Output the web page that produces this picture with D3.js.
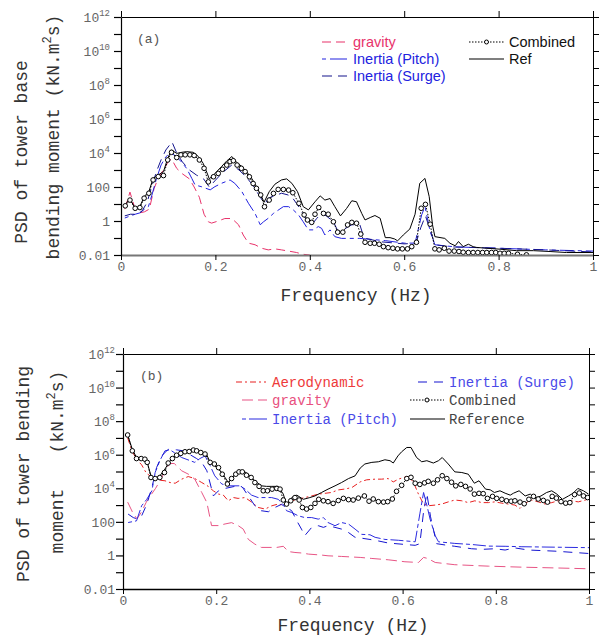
<!DOCTYPE html>
<html>
<head>
<meta charset="utf-8">
<script src="https://cdn.jsdelivr.net/npm/d3@7"></script>
<style>
  body { margin: 0; background: #fff; }
  svg { display: block; }
</style>
</head>
<body>
<svg id="chart" width="601" height="639"></svg>
<script>
// --- Data: panel (a), [frequency Hz, PSD] ---
const gravityA = [[0.008,5],[0.019,50],[0.03,5],[0.04,3],[0.05,3.5],[0.06,5],[0.07,80],[0.08,400],[0.09,1000],[0.1,3000],[0.107,4500],[0.118,1250],[0.13,600],[0.145,300],[0.155,100],[0.166,25],[0.176,2.5],[0.185,0.9],[0.192,0.75],[0.206,1],[0.22,1.4],[0.235,1.4],[0.249,0.6],[0.259,0.15],[0.27,0.05],[0.284,0.04],[0.298,0.025],[0.312,0.02],[0.326,0.023],[0.34,0.02],[0.355,0.017],[0.372,0.014],[0.386,0.011],[0.4,0.01]];
const pitchA = [[0.008,1.5],[0.02,2],[0.03,2.5],[0.04,3],[0.05,5],[0.058,7],[0.065,30],[0.075,300],[0.085,2000],[0.095,6000],[0.105,1e4],[0.115,7000],[0.128,3000],[0.139,1250],[0.15,320],[0.157,130],[0.17,105],[0.189,68],[0.199,105],[0.213,165],[0.231,260],[0.241,165],[0.256,54],[0.27,11],[0.284,2.8],[0.295,0.6],[0.302,0.9],[0.312,1.45],[0.323,2.8],[0.344,7],[0.355,7],[0.365,4.5],[0.376,2.3],[0.386,0.9],[0.397,0.3],[0.407,0.3],[0.418,0.47],[0.425,0.37],[0.432,0.15],[0.443,0.3],[0.453,0.12],[0.467,0.095],[0.506,0.095],[0.56,0.07],[0.6,0.05],[0.623,0.05],[0.637,2.3],[0.644,7],[0.655,0.24],[0.665,0.04],[0.708,0.03],[0.8,0.025],[0.9,0.02],[1,0.017]];
const surgeA = [[0.008,2],[0.02,2.5],[0.035,2.5],[0.045,4],[0.055,12],[0.065,100],[0.075,800],[0.085,4000],[0.095,1.5e4],[0.108,4.5e4],[0.118,1e4],[0.13,3000],[0.145,1000],[0.16,500],[0.175,300],[0.187,100],[0.2,250],[0.215,700],[0.235,2000],[0.25,1000],[0.265,400],[0.28,120],[0.295,25],[0.305,10],[0.312,22],[0.34,43],[0.354,34],[0.365,20],[0.379,5.6],[0.39,1.5],[0.404,0.6],[0.415,1.45],[0.425,2.8],[0.435,2],[0.45,0.9],[0.46,0.24],[0.47,0.3],[0.489,0.6],[0.506,0.6],[0.515,0.1],[0.55,0.06],[0.6,0.045],[0.625,0.05],[0.635,0.4],[0.645,2],[0.655,0.3],[0.665,0.04],[0.7,0.03],[0.8,0.025],[0.9,0.02],[1,0.015]];
const combinedA = [[0.009,7.8],[0.019,17],[0.03,5.6],[0.04,6.2],[0.049,22],[0.059,43],[0.068,260],[0.079,410],[0.09,470],[0.099,3900],[0.107,1.1e4],[0.118,5400],[0.127,7800],[0.136,7800],[0.146,7800],[0.155,7100],[0.166,3900],[0.176,1260],[0.185,200],[0.196,400],[0.206,630],[0.215,1100],[0.224,1950],[0.231,3100],[0.238,3500],[0.246,1950],[0.255,1260],[0.263,800],[0.272,400],[0.28,160],[0.287,83],[0.296,34],[0.304,6.9],[0.314,17],[0.323,42],[0.333,72],[0.344,72],[0.355,66],[0.364,46],[0.377,11],[0.388,2.3],[0.395,1.15],[0.404,0.83],[0.411,2.5],[0.419,6.2],[0.429,2.8],[0.439,2.5],[0.45,0.9],[0.459,0.22],[0.47,0.22],[0.48,0.59],[0.489,0.83],[0.499,0.74],[0.508,0.17],[0.517,0.056],[0.528,0.049],[0.537,0.049],[0.547,0.043],[0.556,0.031],[0.566,0.027],[0.576,0.025],[0.586,0.023],[0.596,0.023],[0.607,0.023],[0.616,0.031],[0.626,0.056],[0.636,5.6],[0.645,9.5],[0.655,0.65],[0.665,0.023],[0.674,0.02],[0.685,0.025],[0.695,0.017],[0.706,0.017],[0.716,0.016],[0.725,0.0145],[0.736,0.014],[0.746,0.014],[0.756,0.014],[0.766,0.014],[0.775,0.014],[0.785,0.014],[0.794,0.014],[0.803,0.0126],[0.812,0.0126],[0.821,0.0126],[0.84,0.011],[0.859,0.0102]];
const refA = [[0.009,9.5],[0.019,20],[0.03,5.6],[0.04,7],[0.049,27],[0.059,53],[0.068,320],[0.079,510],[0.09,800],[0.099,4900],[0.107,1.5e4],[0.118,9500],[0.129,1.1e4],[0.139,1.2e4],[0.153,1.1e4],[0.164,6200],[0.174,2500],[0.184,510],[0.187,300],[0.196,510],[0.213,1600],[0.224,3400],[0.235,6200],[0.245,2800],[0.256,1600],[0.266,800],[0.277,320],[0.287,105],[0.298,27],[0.303,12.6],[0.314,53],[0.326,145],[0.34,260],[0.351,300],[0.362,165],[0.374,53],[0.386,7],[0.397,4.5],[0.411,13.5],[0.422,30],[0.432,17],[0.443,21],[0.453,7],[0.465,2],[0.478,5.5],[0.489,15.5],[0.499,13.5],[0.51,2.8],[0.517,1.15],[0.528,1.6],[0.538,2.1],[0.549,1.45],[0.56,0.105],[0.57,0.105],[0.58,0.087],[0.586,0.068],[0.598,0.15],[0.612,0.34],[0.623,2.5],[0.633,166],[0.644,320],[0.653,27],[0.66,0.59],[0.665,0.12],[0.686,0.095],[0.697,0.049],[0.708,0.035],[0.715,0.062],[0.725,0.031],[0.736,0.043],[0.746,0.031],[0.753,0.028],[0.775,0.025],[0.803,0.022],[0.838,0.018],[0.874,0.018],[0.909,0.016],[0.944,0.014],[1,0.014]];

// --- Data: panel (b) ---
const aeroB = [[0.01,1e7],[0.02,1.5e6],[0.03,5e5],[0.04,2.5e5],[0.05,8e4],[0.06,5e4],[0.07,4e4],[0.08,3e4],[0.09,2.8e4],[0.101,2.2e4],[0.112,2e4],[0.126,3.5e4],[0.14,5e4],[0.154,3.8e4],[0.169,2.2e4],[0.183,1.3e4],[0.194,7000],[0.205,4500],[0.215,4000],[0.226,1800],[0.237,2800],[0.247,2500],[0.262,2800],[0.276,1500],[0.29,720],[0.305,580],[0.319,900],[0.333,1150],[0.344,1000],[0.362,1800],[0.376,2200],[0.39,2800],[0.405,3500],[0.419,4500],[0.433,5000],[0.447,5600],[0.462,8000],[0.476,9000],[0.491,1.1e4],[0.509,2.4e4],[0.523,3.2e4],[0.541,3.5e4],[0.555,3.5e4],[0.569,3.8e4],[0.58,2.4e4],[0.591,3.5e4],[0.602,4.4e4],[0.612,5e4],[0.623,2.4e4],[0.634,4500],[0.645,1150],[0.655,910],[0.67,1000],[0.684,1150],[0.698,1550],[0.712,2000],[0.727,1800],[0.741,1400],[0.755,1800],[0.77,1400],[0.784,1400],[0.798,1550],[0.813,1300],[0.827,1150],[0.841,1000],[0.852,630],[0.863,1300],[0.877,2000],[0.891,1550],[0.906,1150],[0.92,1400],[0.934,1800],[0.949,1300],[0.963,1800],[0.977,1550],[0.992,2000],[1,2000]];
const gravityB = [[0.01,1500],[0.02,400],[0.03,150],[0.04,400],[0.05,1500],[0.06,4000],[0.07,1e4],[0.08,3e4],[0.09,1e5],[0.1,3e5],[0.11,3e5],[0.126,1.1e5],[0.14,7e4],[0.154,3.5e4],[0.169,5600],[0.18,1400],[0.19,60],[0.205,60],[0.219,75],[0.233,90],[0.247,60],[0.258,37],[0.269,9],[0.283,4.7],[0.297,3],[0.33,3],[0.344,3.5],[0.355,1.7],[0.369,1.5],[0.383,1.4],[0.398,1.2],[0.426,1.05],[0.44,0.95],[0.469,0.87],[0.509,0.76],[0.534,0.66],[0.569,0.55],[0.605,0.42],[0.634,0.38],[0.645,0.76],[0.654,0.66],[0.67,0.38],[0.712,0.28],[0.784,0.23],[0.856,0.2],[0.927,0.18],[1,0.16]];
const pitchB = [[0.011,91],[0.029,115],[0.04,910],[0.051,2200],[0.062,7100],[0.069,8.7e4],[0.079,4.4e5],[0.09,1.7e6],[0.101,1.95e6],[0.126,6.8e5],[0.154,3.5e5],[0.165,5.9e5],[0.176,8.5e5],[0.187,2.2e5],[0.197,5.5e4],[0.212,1.8e4],[0.226,1.4e4],[0.251,1.4e4],[0.262,8900],[0.276,3900],[0.29,2800],[0.305,2800],[0.319,2800],[0.333,2200],[0.344,1100],[0.351,460],[0.362,360],[0.376,230],[0.39,180],[0.405,180],[0.419,145],[0.43,180],[0.44,91],[0.455,59],[0.469,91],[0.484,74],[0.498,37],[0.512,18],[0.53,17],[0.541,12],[0.562,9],[0.591,8],[0.627,6.5],[0.637,300],[0.645,5600],[0.652,1000],[0.659,145],[0.67,15],[0.677,6.5],[0.712,5.2],[0.748,4.5],[0.784,3.6],[0.82,3.5],[0.856,3.3],[0.927,3.1],[1,2.9]];
const surgeB = [[0.011,290],[0.022,180],[0.03,150],[0.04,230],[0.051,1100],[0.062,1.1e4],[0.072,1.7e5],[0.083,8.5e5],[0.097,2.1e6],[0.115,1.95e6],[0.13,1.7e6],[0.158,5.9e5],[0.169,3.5e5],[0.18,1.1e5],[0.194,3500],[0.205,7100],[0.219,9800],[0.24,1.3e4],[0.251,1.55e4],[0.258,9800],[0.269,3500],[0.283,910],[0.297,460],[0.312,400],[0.326,720],[0.34,1100],[0.347,830],[0.362,460],[0.373,115],[0.383,37],[0.39,15],[0.405,47],[0.419,59],[0.43,47],[0.44,59],[0.455,47],[0.469,37],[0.484,23],[0.498,12],[0.509,11],[0.541,8],[0.569,5.5],[0.605,4.5],[0.627,4],[0.637,5],[0.645,400],[0.652,5000],[0.66,200],[0.673,5],[0.691,4.2],[0.712,3.5],[0.748,2.5],[0.77,2.3],[0.798,2.5],[0.82,2.1],[0.841,2.8],[0.87,2.1],[0.927,1.8],[1,1.3]];
const combinedB = [[0.01,1.5e7],[0.02,1.7e6],[0.029,5.9e5],[0.039,5.9e5],[0.047,5.4e5],[0.052,3.5e5],[0.06,4.4e4],[0.069,3.8e4],[0.079,4.4e4],[0.089,8.7e4],[0.097,3.2e5],[0.106,5.9e5],[0.115,9.3e5],[0.124,1.2e6],[0.133,1.5e6],[0.142,1.55e6],[0.151,1.9e6],[0.158,1.7e6],[0.167,1.35e6],[0.176,1.1e6],[0.187,3.5e5],[0.196,2.8e5],[0.205,1.7e5],[0.213,6.9e4],[0.224,1.8e4],[0.233,3.8e4],[0.242,6.9e4],[0.249,9.5e4],[0.256,9.5e4],[0.265,6e4],[0.275,4.4e4],[0.283,2.2e4],[0.292,1.3e4],[0.301,7100],[0.31,7100],[0.32,8900],[0.33,9800],[0.337,8900],[0.344,2000],[0.351,1150],[0.36,1800],[0.369,2800],[0.378,2000],[0.385,720],[0.394,580],[0.403,720],[0.412,1260],[0.42,2200],[0.43,1800],[0.44,1600],[0.451,1260],[0.462,1860],[0.473,2500],[0.484,2100],[0.494,2000],[0.505,2600],[0.518,3500],[0.528,1700],[0.537,2300],[0.548,1600],[0.559,1500],[0.568,1600],[0.578,2300],[0.587,6600],[0.598,1.5e4],[0.609,3.8e4],[0.618,4.5e4],[0.627,2e4],[0.637,1.7e4],[0.647,2.1e4],[0.655,2.6e4],[0.666,2e4],[0.675,3.2e4],[0.685,5.6e4],[0.695,3.8e4],[0.705,2.3e4],[0.714,1.4e4],[0.725,1.7e4],[0.735,1.3e4],[0.745,9100],[0.754,4500],[0.764,5000],[0.773,4800],[0.782,2500],[0.793,3300],[0.802,2500],[0.813,2200],[0.823,1800],[0.833,1700],[0.841,1800],[0.852,1500],[0.861,1200],[0.871,2200],[0.881,3300],[0.891,2300],[0.902,1900],[0.911,1500],[0.921,3300],[0.93,2600],[0.94,1600],[0.95,1300],[0.959,1400],[0.969,4200],[0.979,5200],[0.988,3500],[0.997,2800]];
const refB = [[0.01,1.5e7],[0.02,2.1e6],[0.029,6.8e5],[0.04,5.9e5],[0.051,4.4e5],[0.06,5.5e4],[0.069,3.8e4],[0.079,5.5e4],[0.09,1.4e5],[0.101,4.4e5],[0.112,8.5e5],[0.126,1.35e6],[0.147,1.95e6],[0.169,1.5e6],[0.179,1.1e6],[0.187,3.5e5],[0.197,2.2e5],[0.212,8.7e4],[0.226,2.2e4],[0.237,5.5e4],[0.247,1.1e5],[0.258,1.1e5],[0.269,6.9e4],[0.283,2.8e4],[0.297,1.4e4],[0.308,1.3e4],[0.319,1.3e4],[0.333,1.3e4],[0.344,4500],[0.351,1000],[0.362,2800],[0.373,3900],[0.387,2200],[0.401,2800],[0.412,3500],[0.426,5600],[0.44,8900],[0.455,1.4e4],[0.469,2.2e4],[0.484,3.8e4],[0.498,5.5e4],[0.509,1.6e5],[0.519,2.8e5],[0.534,3.5e5],[0.548,3.8e5],[0.562,5e5],[0.573,4.4e5],[0.58,3.2e5],[0.59,8.5e5],[0.598,1.5e6],[0.609,2.7e6],[0.618,2.7e6],[0.63,6.8e5],[0.641,3.8e5],[0.652,4.4e5],[0.666,3.2e5],[0.677,4.4e5],[0.685,6.8e5],[0.698,2.8e5],[0.712,9.5e4],[0.727,8.7e4],[0.741,6.9e4],[0.754,2e4],[0.764,2.8e4],[0.778,8900],[0.788,8100],[0.797,5600],[0.809,7100],[0.82,5100],[0.831,3900],[0.838,5100],[0.85,7100],[0.863,3500],[0.874,4500],[0.884,2500],[0.897,3500],[0.909,5600],[0.92,7100],[0.931,4500],[0.943,2200],[0.956,3500],[0.966,5100],[0.976,9800],[0.988,7100],[0.999,4500]];

// --- Ticks ---
const xTicks = [0, 0.2, 0.4, 0.6, 0.8, 1];
const yDecades = d3.range(-2, 13);          // a tick at every decade
const yLabelExps = [-2, 0, 2, 4, 6, 8, 10, 12];

const MONO = "'Liberation Mono', 'Courier New', monospace";
const SANS = "'Liberation Sans', Arial, sans-serif";

const svg = d3.select("#chart");

function makePanel(id, box, opt) {
  const x = d3.scaleLinear().domain([0, 1]).range([box.left, box.right]);
  const y = d3.scaleLog().domain([0.01, 1e12]).range([box.bottom, box.top]);
  const g = svg.append("g").attr("class", "panel-" + id);

  g.append("clipPath").attr("id", "clip-" + id)
    .append("rect")
    .attr("x", box.left).attr("y", box.top)
    .attr("width", box.right - box.left).attr("height", box.bottom - box.top);

  const plot = g.append("g").attr("clip-path", `url(#clip-${id})`);

  // axes
  const yTickVals = yDecades.map(e => Math.pow(10, e));
  const bottom = g.append("g").attr("transform", `translate(0,${box.bottom})`)
    .call(d3.axisBottom(x).tickValues(xTicks).tickSize(5).tickSizeOuter(0).tickPadding(2)
      .tickFormat(d => d3.format("")(d)));
  bottom.select(".domain").attr("stroke", opt.bottomColor).attr("stroke-width", opt.bottomWidth);
  bottom.selectAll(".tick line").attr("stroke", "#000");
  bottom.selectAll("text").attr("font-family", MONO).attr("font-size", 13).attr("fill", "#666");

  const top = g.append("g").attr("transform", `translate(0,${box.top})`)
    .call(d3.axisTop(x).tickValues(xTicks).tickSize(6).tickSizeOuter(0).tickFormat(""));
  top.selectAll(".domain, .tick line").attr("stroke", "#000");

  const left = g.append("g").attr("transform", `translate(${box.left},0)`)
    .call(d3.axisLeft(y).tickValues(yTickVals).tickSize(7).tickSizeOuter(0).tickFormat(""));
  left.selectAll(".domain, .tick line").attr("stroke", "#000").attr("stroke-width", 1.2);

  const right = g.append("g").attr("transform", `translate(${box.right},0)`)
    .call(d3.axisRight(y).tickValues(yTickVals).tickSize(6).tickSizeOuter(0).tickFormat(""));
  right.selectAll(".domain, .tick line").attr("stroke", "#000");

  // y tick labels (10^n with superscript)
  const lab = g.append("g").attr("font-family", MONO).attr("fill", "#666");
  yLabelExps.forEach(e => {
    const t = lab.append("text")
      .attr("x", box.left - opt.labelGap)
      .attr("y", y(Math.pow(10, e)) + 5)
      .attr("text-anchor", "end")
      .attr("font-size", 13);
    if (e === -2) t.text("0.01");
    else if (e === 0) t.text("1");
    else if (e === 2) t.text("100");
    else {
      t.append("tspan").text("10");
      t.append("tspan").attr("font-size", 9).attr("dy", -6).text(e);
    }
  });

  return { x, y, g, plot, box };
}

function drawSeries(p, data, st) {
  const line = d3.line().x(d => p.x(d[0])).y(d => p.y(d[1]));
  p.plot.append("path")
    .datum(data)
    .attr("d", line)
    .attr("fill", "none")
    .attr("stroke", st.color)
    .attr("stroke-width", st.width || 1)
    .attr("stroke-dasharray", st.dash || null);
  if (st.marker) {
    p.plot.append("g").selectAll("circle")
      .data(data)
      .join("circle")
      .attr("cx", d => p.x(d[0]))
      .attr("cy", d => p.y(d[1]))
      .attr("r", 2.3)
      .attr("fill", "#fff")
      .attr("stroke", "#000")
      .attr("stroke-width", 1);
  }
}

function legendItem(g, it) {
  g.append("line")
    .attr("x1", it.x1).attr("x2", it.x2).attr("y1", it.y).attr("y2", it.y)
    .attr("stroke", it.color).attr("stroke-width", 1.2)
    .attr("stroke-dasharray", it.dash || null);
  if (it.marker) {
    g.append("circle").attr("cx", (it.x1 + it.x2) / 2).attr("cy", it.y).attr("r", 2)
      .attr("fill", "#fff").attr("stroke", "#000");
  }
  g.append("text")
    .attr("x", it.tx).attr("y", it.y + 5)
    .attr("font-family", it.font).attr("font-size", it.size)
    .attr("fill", it.textColor)
    .text(it.label);
}

function rotText(x, y, txt, parts) {
  const t = svg.append("text")
    .attr("transform", `translate(${x},${y}) rotate(-90)`)
    .attr("text-anchor", "middle")
    .attr("font-family", MONO).attr("font-size", 18).attr("fill", "#333");
  if (!parts) { t.text(txt); return t; }
  t.append("tspan").text(parts[0]);
  t.append("tspan").attr("font-size", 12).attr("dy", -8).text(parts[1]);
  t.append("tspan").attr("dy", 8).text(parts[2]);
  return t;
}

// ================= Panel (a) =================
const pa = makePanel("a", { left: 121, right: 593, top: 17, bottom: 255 },
  { bottomColor: "#777", bottomWidth: 2, labelGap: 11 });

const stA = {
  gravity: { color: "#e8336b", dash: "9,5" },
  pitch: { color: "#2222e0", dash: "4,4,14,4" },
  surge: { color: "#14148c", dash: "10,6" },
  combined: { color: "#000", dash: "1.5,1.5", marker: true },
  ref: { color: "#000" }
};
drawSeries(pa, gravityA, stA.gravity);
drawSeries(pa, pitchA, stA.pitch);
drawSeries(pa, surgeA, stA.surge);
drawSeries(pa, refA, stA.ref);
drawSeries(pa, combinedA, stA.combined);

pa.g.append("text").attr("x", 137).attr("y", 43)
  .attr("font-family", MONO).attr("font-size", 13).attr("fill", "#555").text("(a)");

const legA = pa.g.append("g");
[
  { label: "gravity", y: 42, x1: 322, x2: 347, tx: 353, color: stA.gravity.color, dash: "9,5", textColor: "#e8336b" },
  { label: "Inertia (Pitch)", y: 59, x1: 322, x2: 347, tx: 353, color: stA.pitch.color, dash: "4,4,17,4", textColor: "#2222e0" },
  { label: "Inertia (Surge)", y: 76, x1: 322, x2: 347, tx: 353, color: stA.surge.color, dash: "10,6", textColor: "#2222e0" },
  { label: "Combined", y: 42, x1: 469, x2: 504, tx: 509, color: "#000", dash: "1.5,1.5", marker: true, textColor: "#111" },
  { label: "Ref", y: 59, x1: 469, x2: 504, tx: 509, color: "#000", textColor: "#111" }
].forEach(it => legendItem(legA, Object.assign({ font: SANS, size: 14.5 }, it)));

svg.append("text").attr("x", 356).attr("y", 301).attr("text-anchor", "middle")
  .attr("font-family", MONO).attr("font-size", 18).attr("fill", "#333").text("Frequency (Hz)");
rotText(27, 152, "PSD of tower base");
rotText(59, 137, null, ["bending moment (kN.m", "2", "s)"]);

// ================= Panel (b) =================
const pb = makePanel("b", { left: 123, right: 589, top: 354, bottom: 589 },
  { bottomColor: "#000", bottomWidth: 1.3, labelGap: 8 });

const stB = {
  aero: { color: "#e82020", dash: "6,3,2,3" },
  gravity: { color: "#e85585", dash: "11,5" },
  pitch: { color: "#2b2be0", dash: "4,3,13,3" },
  surge: { color: "#1515d0", dash: "9,7" },
  combined: { color: "#000", dash: "1.5,1.5", marker: true },
  ref: { color: "#000" }
};
drawSeries(pb, aeroB, stB.aero);
drawSeries(pb, gravityB, stB.gravity);
drawSeries(pb, pitchB, stB.pitch);
drawSeries(pb, surgeB, stB.surge);
drawSeries(pb, refB, stB.ref);
drawSeries(pb, combinedB, stB.combined);

pb.g.append("text").attr("x", 140).attr("y", 380)
  .attr("font-family", MONO).attr("font-size", 13).attr("fill", "#555").text("(b)");

const legB = pb.g.append("g");
[
  { label: "Aerodynamic", y: 382, x1: 236, x2: 266, tx: 272, color: stB.aero.color, dash: "6,3,2,3", textColor: "#ee3a3a" },
  { label: "gravity", y: 400, x1: 242, x2: 267, tx: 272, color: stB.gravity.color, dash: "11,5", textColor: "#e8507e" },
  { label: "Inertia (Pitch)", y: 419, x1: 242, x2: 267, tx: 272, color: stB.pitch.color, dash: "4,3,18,3", textColor: "#4a4ae8" },
  { label: "Inertia (Surge)", y: 382, x1: 418, x2: 444, tx: 449, color: stB.surge.color, dash: "9,7", textColor: "#4a4ae8" },
  { label: "Combined", y: 400, x1: 410, x2: 444, tx: 449, color: "#000", dash: "1.5,1.5", marker: true, textColor: "#444" },
  { label: "Reference", y: 419, x1: 410, x2: 445, tx: 449, color: "#000", textColor: "#444" }
].forEach(it => legendItem(legB, Object.assign({ font: MONO, size: 14 }, it)));

svg.append("text").attr("x", 353).attr("y", 631).attr("text-anchor", "middle")
  .attr("font-family", MONO).attr("font-size", 18).attr("fill", "#333").text("Frequency (Hz)");
rotText(29, 474, "PSD of tower bending");
rotText(63, 521, "moment");
rotText(63, 412, null, ["(kN.m", "2", "s)"]);
</script>
</body>
</html>
